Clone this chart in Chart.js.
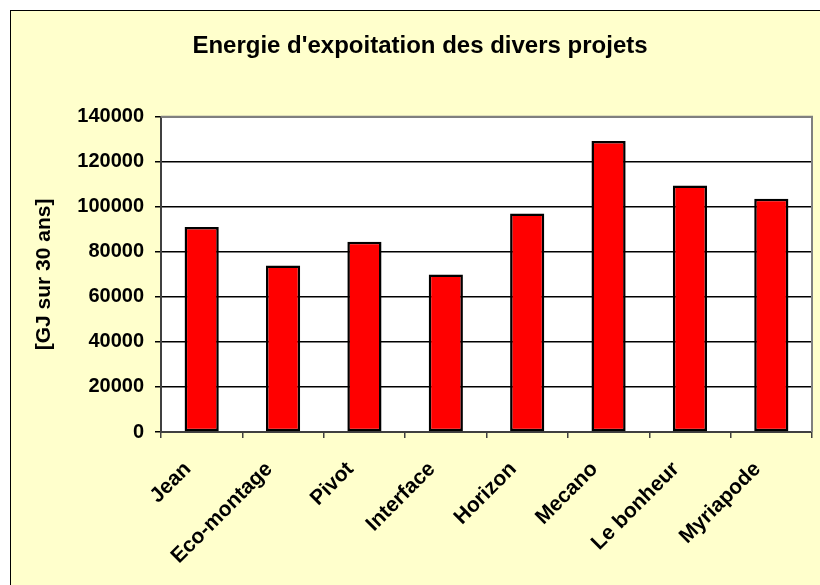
<!DOCTYPE html>
<html>
<head>
    <title>Energie d'expoitation</title>
    <style>
    body {
        margin: 0;
        background: #FFFFFF;
        font-family: 'Liberation Sans', Arial, sans-serif;
    }
    .frame {
        position: absolute;
        left: 10px;
        top: 10px;
        width: 830px;
        height: 600px;
        background: #FFFFCC;
        border: 1px solid #000000;
        overflow: hidden;
    }
    #bar-chart {
        position: absolute;
        left: 0px;
        top: 0px;
    }
    </style>
    <script src="https://cdn.jsdelivr.net/npm/chart.js"></script>
</head>
<body>
    <div class="frame">
        <canvas id="bar-chart" width="809" height="574"></canvas>
    </div>
    <script>
        const projets = ['Jean', 'Eco-montage', 'Pivot', 'Interface', 'Horizon', 'Mecano', 'Le bonheur', 'Myriapode'];
        const energie = [91000, 74000, 84500, 70000, 97000, 129200, 109500, 103600];
        const yTicks = [0, 20000, 40000, 60000, 80000, 100000, 120000, 140000];

        const arial = "'Liberation Sans', Arial, sans-serif";

        // white plot area with grey frame, like the spreadsheet original
        const plotFrame = {
            id: 'plotFrame',
            beforeDraw(chart) {
                const a = chart.chartArea;
                const ctx = chart.ctx;
                ctx.save();
                ctx.fillStyle = '#FFFFFF';
                ctx.fillRect(a.left, a.top, a.right - a.left, a.bottom - a.top);
                ctx.restore();
            },
            afterDraw(chart) {
                const a = chart.chartArea;
                const ctx = chart.ctx;
                ctx.save();
                ctx.strokeStyle = '#808080';
                ctx.lineWidth = 2;
                ctx.beginPath();
                ctx.moveTo(a.left, a.top);
                ctx.lineTo(a.right, a.top);
                ctx.lineTo(a.right, a.bottom);
                ctx.stroke();
                ctx.restore();
            }
        };

        const ctx = document.getElementById('bar-chart').getContext('2d');
        const chart = new Chart(ctx, {
            type: 'bar',
            data: {
                labels: projets,
                datasets: [{
                    data: energie,
                    backgroundColor: '#FF0000',
                    borderColor: '#000000',
                    borderWidth: 2.5,
                    borderSkipped: false,
                    categoryPercentage: 1.0,
                    barPercentage: 0.42
                }]
            },
            options: {
                responsive: false,
                animation: false,
                layout: {
                    // left padding only to push the title centre to the right
                    padding: { left: 17, right: 8, top: 0, bottom: 0 }
                },
                plugins: {
                    legend: { display: false },
                    tooltip: { enabled: false },
                    title: {
                        display: true,
                        text: "Energie d'expoitation des divers projets",
                        color: '#000000',
                        font: { family: arial, size: 24, weight: 'bold' },
                        padding: { top: 21, bottom: 56 }
                    }
                },
                scales: {
                    x: {
                        afterFit(scale) { scale.height = 153; },
                        grid: {
                            offset: true,
                            drawOnChartArea: false,
                            drawTicks: true,
                            tickLength: 6,
                            color: '#404040',
                            lineWidth: 1.5
                        },
                        border: { color: '#404040', width: 2 },
                        ticks: {
                            color: '#000000',
                            maxRotation: 45,
                            minRotation: 45,
                            padding: 19,
                            labelOffset: -14,
                            font: { family: arial, size: 21, weight: 'bold' }
                        }
                    },
                    y: {
                        min: 0,
                        max: 140000,
                        afterFit(scale) { scale.width = 133; },
                        afterBuildTicks(scale) { scale.ticks = yTicks.map(v => ({ value: v })); },
                        grid: {
                            color: '#000000',
                            lineWidth: 1.5,
                            drawTicks: true,
                            tickLength: 6
                        },
                        border: { color: '#404040', width: 2 },
                        ticks: {
                            color: '#000000',
                            padding: 11,
                            callback: v => String(v),
                            font: { family: arial, size: 20, weight: 'bold' }
                        },
                        title: {
                            display: true,
                            text: '[GJ sur 30 ans]',
                            color: '#000000',
                            padding: { top: 4, bottom: 0 },
                            font: { family: arial, size: 21, weight: 'bold' }
                        }
                    }
                }
            },
            plugins: [plotFrame]
        });
    </script>
</body>
</html>
